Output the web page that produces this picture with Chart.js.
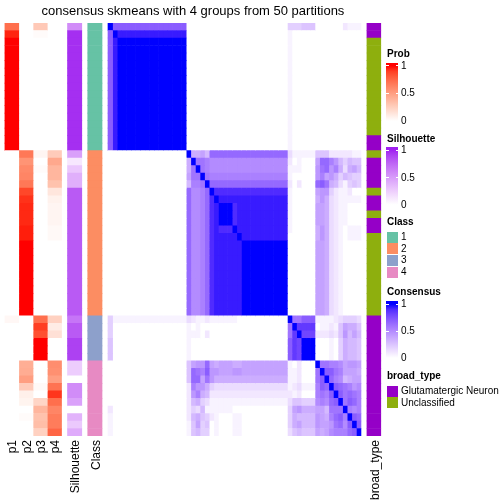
<!DOCTYPE html>
<html><head><meta charset="utf-8">
<script src="https://cdn.jsdelivr.net/npm/chart.js@4.4.1/dist/chart.umd.min.js"></script>
<style>
html,body{margin:0;padding:0;background:#fff;}
#wrap{position:relative;width:504px;height:504px;overflow:hidden;font-family:"Liberation Sans",Arial,Helvetica,sans-serif;color:#000;background:#fff;}
#c{position:absolute;left:0;top:0;}
.t{position:absolute;white-space:nowrap;}
.b{position:absolute;}
</style></head><body>
<div id="wrap">
<canvas id="c" width="504" height="504"></canvas>
<div id="title" class="t" style="left:0;top:3.5px;width:386px;text-align:center;font-size:13px;line-height:14px;">consensus skmeans with 4 groups from 50 partitions</div>
<div id="legend"></div>
</div>
<script>
// ---------------- data ----------------
const sampleIds = ["s01","s02","s03","s04","s05","s06","s07","s08","s09","s10","s11","s12","s13","s14","s15","s16","s17","s18","s19","s20","s21","s22","s23","s24","s25","s26","s27","s28","s29","s30","s31","s32","s33","s34","s35","s36","s37","s38","s39","s40","s41","s42","s43","s44","s45","s46","s47","s48","s49","s50","s51","s52","s53","s54","s55"];
const columnLabels = ["p1","p2","p3","p4","Silhouette","Class","broad_type"];
const classes = [1,1,1,1,1,1,1,1,1,1,1,1,1,1,1,1,1,
  2,2,2,2,2,2,2,2,2,2,2,2,2,2,2,2,2,2,2,2,2,2,
  3,3,3,3,3,3,
  4,4,4,4,4,4,4,4,4,4];
const p1 = [0.72,0.96,1,1,1,1,1,1,1,1,1,1,1,1,1,1,1,
  0,0,0,0,0,0,0,0,0,0,0,0,0,0,0,0,0,0,0,0,0,0,
  0.04,0,0,0,0,0,
  0,0,0,0,0,0,0,0,0,0];
const p2 = [0,0,0,0,0,0,0,0,0,0,0,0,0,0,0,0,0,
  0.68,0.55,0.6,0.62,0.68,0.87,0.93,0.95,0.95,0.95,0.97,0.97,1,1,1,1,1,1,1,1,1,1,
  0,0,0,0,0,0,
  0.42,0.43,0.5,0.27,0.08,0.06,0,0.02,0,0];
const p3 = [0.28,0.02,0,0,0,0,0,0,0,0,0,0,0,0,0,0,0,
  0.05,0,0.02,0,0,0,0,0,0,0,0,0,0,0,0,0,0,0,0,0,0,0,
  0.72,0.9,0.84,1,1,1,
  0,0,0,0.03,0,0.22,0.38,0.32,0.34,0.24];
const p4 = [0,0,0,0,0,0,0,0,0,0,0,0,0,0,0,0,0,
  0.27,0.45,0.38,0.38,0.32,0.13,0.07,0.05,0.05,0.05,0.03,0.03,0,0,0,0,0,0,0,0,0,0,
  0.24,0.1,0.16,0,0,0,
  0.58,0.57,0.5,0.7,0.92,0.72,0.62,0.66,0.66,0.76];
const silhouette = [0.57,0.96,0.96,0.96,0.96,0.96,0.96,0.96,0.96,0.96,0.96,0.96,0.96,0.96,0.96,0.96,0.96,
  0.48,0.12,0.28,0.4,0.4,0.8,0.8,0.8,0.8,0.8,0.8,0.8,0.8,0.8,0.8,0.8,0.8,0.8,0.8,0.8,0.8,0.8,
  0.68,0.8,0.8,0.9,0.9,0.9,
  0.25,0.25,0,0.57,0.57,0.47,0,0.38,0.27,0.42];
const broadTypeNames = {G:"Glutamatergic Neuron", U:"Unclassified"};
const broadType = ["G","G","U","U","U","U","U","U","U","U","U","U","U","U","U","G","G",
  "U","G","G","G","G","U","G","G","U","G","G","U","U","U","U","U","U","U","U","U","U","U",
  "G","G","G","G","G","G",
  "G","G","G","G","G","G","G","G","G","G"];
// consensus matrix: one string per row, char = base-36 digit, value = digit/20
const consensus = [
"keeeeeeeeeeeeeeee 00000 00000000000000000 444555 0000002111",
"ekjjjjjjjjjjjjjjj 00000 00000000000000000 100000 0000000000",
"ejkkkkkkkkkkkkkkk 00000 00000000000000000 100000 0000000000",
"ejkkkkkkkkkkkkkkk 00000 00000000000000000 100000 0000000000",
"ejkkkkkkkkkkkkkkk 00000 00000000000000000 100000 0000000000",
"ejkkkkkkkkkkkkkkk 00000 00000000000000000 100000 0000000000",
"ejkkkkkkkkkkkkkkk 00000 00000000000000000 100000 0000000000",
"ejkkkkkkkkkkkkkkk 00000 00000000000000000 100000 0000000000",
"ejkkkkkkkkkkkkkkk 00000 00000000000000000 100000 0000000000",
"ejkkkkkkkkkkkkkkk 00000 00000000000000000 100000 0000000000",
"ejkkkkkkkkkkkkkkk 00000 00000000000000000 100000 0000000000",
"ejkkkkkkkkkkkkkkk 00000 00000000000000000 100000 0000000000",
"ejkkkkkkkkkkkkkkk 00000 00000000000000000 100000 0000000000",
"ejkkkkkkkkkkkkkkk 00000 00000000000000000 100000 0000000000",
"ejkkkkkkkkkkkkkkk 00000 00000000000000000 100000 0000000000",
"ejkkkkkkkkkkkkkkk 00000 00000000000000000 100000 0000000000",
"ejkkkkkkkkkkkkkkk 00000 00000000000000000 100000 0000000000",
"00000000000000000 k7786 ddddddddddddddddd 311111 5552222211",
"00000000000000000 7kccb aaaaaaaaaaaaaaaaa 201000 8ddb964655",
"00000000000000000 7ckcb aaaaaaaaaaaaaaaaa 111000 9cd9b73786",
"00000000000000000 8cckc bbbbbbbbbbbbbbbbb 100000 9b89746544",
"00000000000000000 6bbck ddddddddddddddddd 202000 dec7631454",
"00000000000000000 daabd kiiiiiiiiiiiiiiii 100000 8994211200",
"00000000000000000 daabd ikjjjjjjjjjjjjjjj 100000 7973211111",
"00000000000000000 daabd ijkkkijjjjjjjjjjj 100000 8873211000",
"00000000000000000 daabd ijkkkijjjjjjjjjjj 100000 8873211000",
"00000000000000000 daabd ijkkkijjjjjjjjjjj 100000 8873211000",
"00000000000000000 daabd ijiiikjjjjjjjjjjj 100000 7973210111",
"00000000000000000 daabd ijjjjjkjjjjjjjjjj 000000 7973210111",
"00000000000000000 daabd ijjjjjjkkkkkkkkkk 000000 8873210000",
"00000000000000000 daabd ijjjjjjkkkkkkkkkk 000000 8873210000",
"00000000000000000 daabd ijjjjjjkkkkkkkkkk 000000 8873210000",
"00000000000000000 daabd ijjjjjjkkkkkkkkkk 000000 8873210000",
"00000000000000000 daabd ijjjjjjkkkkkkkkkk 000000 8873210000",
"00000000000000000 daabd ijjjjjjkkkkkkkkkk 000000 8873210000",
"00000000000000000 daabd ijjjjjjkkkkkkkkkk 000000 8873210000",
"00000000000000000 daabd ijjjjjjkkkkkkkkkk 000000 8873210000",
"00000000000000000 daabd ijjjjjjkkkkkkkkkk 000000 8873210000",
"00000000000000000 daabd ijjjjjjkkkkkkkkkk 000000 8873210000",
"41111111111111111 32112 11111100000000000 kcceee 1111234443",
"40000000000000000 10100 00000000000000000 ckhhhh 0112158775",
"40000000000000000 11102 00000000000000000 chkggg 2223259686",
"50000000000000000 10000 00000000000000000 ehgkkk 0001047665",
"50000000000000000 10000 00000000000000000 ehgkkk 0001047665",
"50000000000000000 10000 00000000000000000 ehgkkk 0001047665",
"00000000000000000 5899d 87888778888888888 102000 kccbba8998",
"00000000000000000 5dcbe 99888998888888888 112000 ckeecb8887",
"00000000000000000 5dd8c 97777777777777777 112000 cekdba6788",
"00000000000000000 2b997 43333333333333333 123111 bedkedcb9a",
"00000000000000000 29b76 22222222222222222 212000 bcbekecdcb",
"00000000000000000 26743 11111111111111111 355444 abadekcedb",
"20000000000000000 24361 11111000000000000 489777 886ccckbab",
"10000000000000000 26754 21000110000000000 476666 987bdebked",
"10000000000000000 15845 01000110000000000 478666 9889cdaeke",
"10000000000000000 15644 01000110000000000 356555 878abbbdek"
];
const classColors = {1:"#66C2A5", 2:"#FC8D62", 3:"#8DA0CB", 4:"#E78AC3"};
const broadColors = {G:"#9500C7", U:"#8EAF0E"};

// ---------------- colour ramps (LAB, like colorRamp2) ----------------
function hex2rgb(h){ return [1,3,5].map(i=>parseInt(h.slice(i,i+2),16)); }
function lin(c){ c/=255; return c<=0.04045 ? c/12.92 : Math.pow((c+0.055)/1.055,2.4); }
function gam(c){ c=Math.min(1,Math.max(0,c)); return Math.round(255*(c<=0.0031308 ? 12.92*c : 1.055*Math.pow(c,1/2.4)-0.055)); }
const WX=0.95047, WY=1, WZ=1.08883;
function ff(t){ return t>0.008856 ? Math.cbrt(t) : 7.787*t+16/116; }
function fi(t){ return t>0.206893 ? t*t*t : (t-16/116)/7.787; }
function rgb2lab(rgb){ const [r,g,b]=rgb.map(lin);
  const X=0.4124*r+0.3576*g+0.1805*b, Y=0.2126*r+0.7152*g+0.0722*b, Z=0.0193*r+0.1192*g+0.9505*b;
  const fx=ff(X/WX), fy=ff(Y/WY), fz=ff(Z/WZ); return [116*fy-16, 500*(fx-fy), 200*(fy-fz)]; }
function lab2rgb(L,a,b){ const fy=(L+16)/116, fx=fy+a/500, fz=fy-b/200;
  const X=WX*fi(fx), Y=WY*fi(fy), Z=WZ*fi(fz);
  return 'rgb('+gam(3.2406*X-1.5372*Y-0.4986*Z)+','+gam(-0.9689*X+1.8758*Y+0.0415*Z)+','+gam(0.0557*X-0.2040*Y+1.0570*Z)+')'; }
function ramp(lo,hi){ const A=rgb2lab(hex2rgb(lo)), B=rgb2lab(hex2rgb(hi));
  return t=>{ t=Math.max(0,Math.min(1,t)); if(t>=1) return hi; return lab2rgb(A[0]+(B[0]-A[0])*t, A[1]+(B[1]-A[1])*t, A[2]+(B[2]-A[2])*t); }; }
const probCol = ramp("#FFFFFF","#FF0000");
const silCol = ramp("#FFFFFF","#A020F0");
const consCol = ramp("#FFFFFF","#0000FF");

// ---------------- layout of columns (in consensus-cell units) ----------------
const N = sampleIds.length;
const W = 3.1, G = 1.3;
const X_MIN = -(3*G + 6*W), X_MAX = N + G + W;
const consRows = consensus.map((s,i)=>{ const r=s.replace(/ /g,''); if(r.length!==N) throw new Error('row '+i+' len '+r.length); return r.split('').map(ch=>parseInt(ch,36)/20); });

const cols = [];
[p1,p2,p3,p4].forEach((arr,k)=>cols.push({x0:X_MIN+k*W, x1:X_MIN+(k+1)*W, colors:arr.map(probCol)}));
cols.push({x0:-2*G-2*W, x1:-2*G-W, colors:silhouette.map(silCol)});
cols.push({x0:-G-W, x1:-G, colors:classes.map(c=>classColors[c])});
for(let j=0;j<N;j++) cols.push({x0:j, x1:j+1, colors:consRows.map(r=>consCol(r[j]))});
cols.push({x0:N+G, x1:N+G+W, colors:broadType.map(b=>broadColors[b])});
const labelCenters = [0,1,2,3].map(k=>X_MIN+(k+0.5)*W).concat([-2*G-1.5*W, -G-0.5*W, N+G+0.5*W]);

const datasets = cols.map(c=>({
  data: sampleIds.map(id=>({y:id, x:[c.x0, c.x1]})),
  backgroundColor: c.colors,
  borderWidth: 0,
  grouped: false,
  barPercentage: 1,
  categoryPercentage: 1
}));

new Chart(document.getElementById('c'), {
  type: 'bar',
  data: { labels: sampleIds, datasets },
  options: {
    indexAxis: 'y',
    responsive: false,
    animation: false,
    events: [],
    layout: { padding: { left: 4.5, top: 23, right: 504 - 381.2, bottom: 0 } },
    plugins: { legend: {display:false}, tooltip: {enabled:false}, title: {display:false} },
    scales: {
      y: { type: 'category', display: false, offset: true },
      x: {
        type: 'linear', min: X_MIN, max: X_MAX, position: 'bottom',
        grid: { display: false, drawTicks: false },
        border: { display: false },
        afterBuildTicks: s => { s.ticks = labelCenters.map(v=>({value:v})); },
        afterFit: s => { s.height = 68; },
        ticks: {
          autoSkip: false, minRotation: 90, maxRotation: 90, padding: 4, labelOffset: 1.5, color: '#000',
          font: { family: '"Liberation Sans", Arial, sans-serif', size: 12 },
          callback: (v, i) => columnLabels[i]
        }
      }
    }
  }
});

// ---------------- legends (HTML) ----------------
const L = document.getElementById('legend');
function txt(s, left, cy, bold){ const d=document.createElement('div'); d.className='t'; d.textContent=s;
  d.style.left=left+'px'; d.style.top=(cy-6)+'px'; d.style.fontSize='10px'; d.style.lineHeight='12px';
  if(bold) d.style.fontWeight='bold'; L.appendChild(d); }
function box(left, top, w, h, bg){ const d=document.createElement('div'); d.className='b';
  d.style.left=left+'px'; d.style.top=top+'px'; d.style.width=w+'px'; d.style.height=h+'px'; d.style.background=bg; L.appendChild(d); }
function colorBar(title, ty, top, y1, y0, bottom, fn){
  txt(title, 387, ty, true);
  const h = bottom-top; const stops=[];
  for(let k=0;k<=10;k++){ const t=1-k/10; stops.push(fn(t)+' '+((y1-top)+(y0-y1)*k/10).toFixed(2)+'px'); }
  box(386, top, 12, h, 'linear-gradient(to bottom,'+fn(1)+' 0px,'+stops.join(',')+','+fn(0)+' '+h+'px)');
  [y1,(y1+y0)/2].forEach(y=>{ box(386, y-0.5, 2.5, 1, '#fff'); box(395.5, y-0.5, 2.5, 1, '#fff'); });
  txt('1', 401, y1); txt('0.5', 401, (y1+y0)/2); txt('0', 401, y0);
}
colorBar('Prob', 54.3, 63, 65.7, 121, 123, probCol);
colorBar('Silhouette', 138.5, 147.3, 150, 205, 207, silCol);
txt('Class', 387, 222.3, true);
[1,2,3,4].forEach((c,k)=>{ const top=231.5+k*11.7; box(386.5, top, 11.5, 11, classColors[c]); txt(String(c), 401, top+5.5); });
colorBar('Consensus', 292, 301, 304, 358, 360, consCol);
txt('broad_type', 387, 376, true);
['G','U'].forEach((b,k)=>{ const top=386+k*11.3; box(386.5, top, 11.5, 10.8, broadColors[b]); txt(broadTypeNames[b], 401, top+5.4); });
</script>
</body></html>
